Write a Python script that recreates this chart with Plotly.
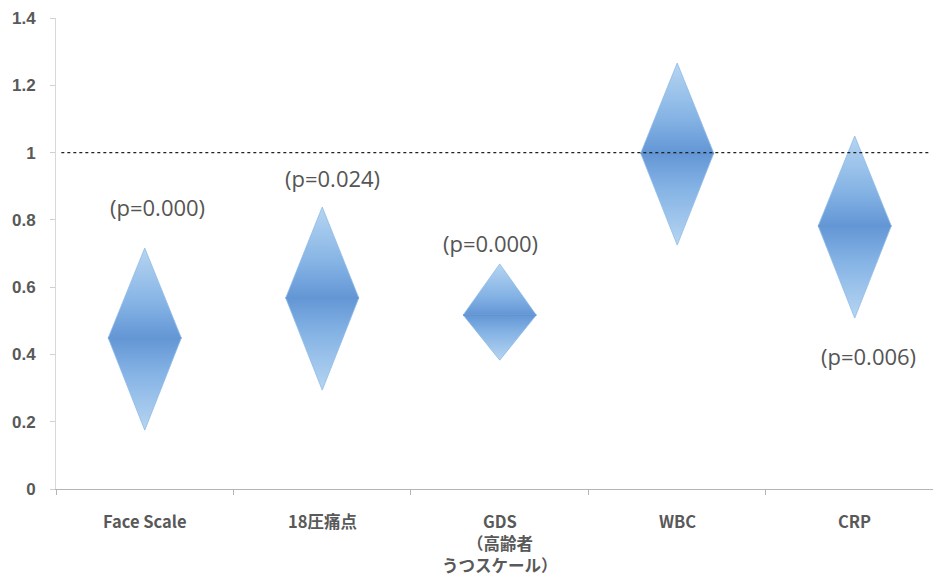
import plotly.graph_objects as go

# Ratio estimates with their ranges, one diamond per item
categories = ["Face Scale", "18圧痛点", "GDS\n（高齢者\nうつスケール）", "WBC", "CRP"]
center = [0.449, 0.568, 0.517, 0.998, 0.782]
lower = [0.175, 0.294, 0.383, 0.725, 0.508]
upper = [0.716, 0.838, 0.669, 1.266, 1.049]
p_labels = ["(p=0.000)", "(p=0.024)", "(p=0.000)", "", "(p=0.006)"]

y_ticks = [0, 0.2, 0.4, 0.6, 0.8, 1.0, 1.2, 1.4]
y_tick_text = ["0", "0.2", "0.4", "0.6", "0.8", "1", "1.2", "1.4"]

# where each p-value label sits (x offset from the item, y in axis units)
label_dx = [0.07, 0.06, -0.05, 0.0, 0.08]
label_y = [0.838, 0.924, 0.731, 0.0, 0.395]

HALF_W = 0.206
DARK = "#6396d5"
MID = "#86b4e5"
LIGHT = "#b6d5f1"
EDGE = "#8dbbe8"

fig = go.Figure()

for i, (c, lo, hi) in enumerate(zip(center, lower, upper)):
    for tip in (hi, lo):
        # each half: darker at the centre, fading toward its tip
        fig.add_trace(go.Scatter(
            x=[i - HALF_W, i, i + HALF_W, i - HALF_W],
            y=[c, tip, c, c],
            mode="lines", fill="toself",
            line=dict(color=EDGE, width=0.8),
            fillgradient=dict(type="vertical", start=c, stop=tip,
                              colorscale=[[0, DARK], [0.4, MID], [1, LIGHT]]),
            hoverinfo="skip", showlegend=False,
        ))
    # point estimate line across the widest part
    fig.add_trace(go.Scatter(
        x=[i - HALF_W, i + HALF_W], y=[c, c],
        mode="lines", line=dict(color="#5286c6", width=1),
        hoverinfo="skip", showlegend=False,
    ))

# reference line at ratio 1
fig.add_shape(type="line", xref="x", yref="y",
              x0=-0.47, x1=4.415, y0=1, y1=1,
              line=dict(color="#222222", width=1.2, dash="dot"))

for i, txt in enumerate(p_labels):
    if not txt:
        continue
    fig.add_annotation(x=i + label_dx[i], y=label_y[i], text=txt,
                       showarrow=False, xanchor="center", yanchor="middle",
                       font=dict(family="Open Sans, Noto Sans CJK JP", size=22,
                                 color="#555555"))

# category names under the axis, one line of text per row
for i, name in enumerate(categories):
    for row, part in enumerate(name.split("\n")):
        fig.add_annotation(x=i, y=0, yref="y", text=part,
                           showarrow=False, xanchor="center", yanchor="middle",
                           yshift=-32 - 22 * row,
                           font=dict(family="Noto Sans CJK JP", size=16.5,
                                     color="#595959", weight="bold"))

fig.update_layout(
    width=938, height=576,
    margin=dict(l=56, r=5, t=18, b=87),
    paper_bgcolor="white", plot_bgcolor="white",
    showlegend=False,
    xaxis=dict(
        range=[-0.5, 4.441], showgrid=False, zeroline=False,
        showticklabels=False, ticks="",
        showline=True, linecolor="#b5b5b5", linewidth=1,
        minor=dict(tickvals=[k - 0.5 for k in range(len(categories) + 1)],
                   ticks="outside", ticklen=5, tickcolor="#b5b5b5"),
        fixedrange=True,
    ),
    yaxis=dict(
        range=[0, 1.4], showgrid=False, zeroline=False,
        tickmode="array", tickvals=y_ticks, ticktext=y_tick_text,
        ticks="outside", ticklen=5, tickcolor="#d0d0d0",
        showline=True, linecolor="#d8d8d8", linewidth=1,
        tickfont=dict(family="Liberation Sans, DejaVu Sans", size=17,
                      color="#595959", weight="bold"),
        ticklabelstandoff=11,
        fixedrange=True,
    ),
)

fig.write_html("out.html")
